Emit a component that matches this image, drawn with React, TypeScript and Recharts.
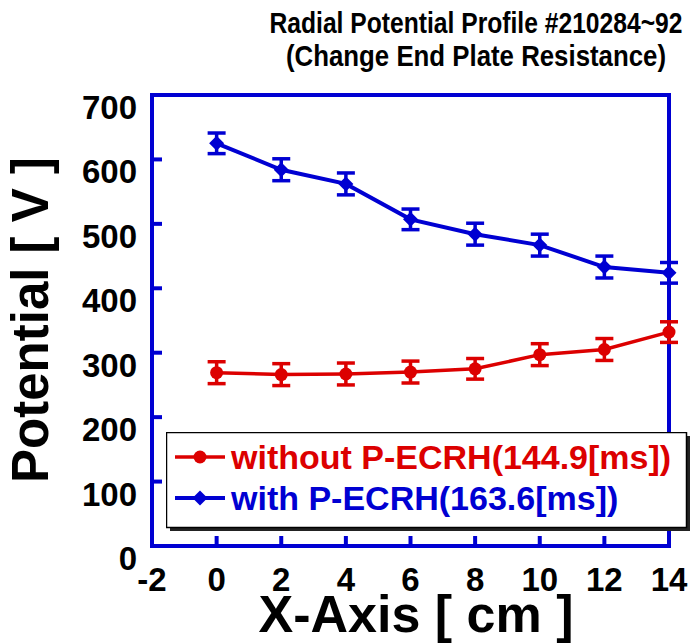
import React from 'react';
import { LineChart, Line, XAxis, YAxis, ErrorBar, ReferenceArea, Legend } from 'recharts';

const xPositions = [0, 2, 4, 6, 8, 10, 12, 14];
const withoutEcrh = [269, 266, 267, 270, 275, 297, 305, 332];
const withoutEcrhErr = [17, 17, 17, 17, 16, 17, 17, 16];
const withEcrh = [625, 584, 562, 507, 484, 467, 433, 424];
const withEcrhErr = [16, 17, 17, 16, 17, 17, 17, 16];
const xTicks = [-2, 0, 2, 4, 6, 8, 10, 12, 14];
const yTicks = [0, 100, 200, 300, 400, 500, 600, 700];
const titleLines = ['Radial Potential Profile #210284~92', '(Change End Plate Resistance)'];
const seriesNames = ['without P-ECRH(144.9[ms])', 'with P-ECRH(163.6[ms])'];
const xTitle = 'X-Axis [ cm ]';
const yTitle = 'Potential [ V ]';

const data = xPositions.map((x, i) => ({
  x,
  red: withoutEcrh[i],
  redErr: withoutEcrhErr[i],
  blue: withEcrh[i],
  blueErr: withEcrhErr[i],
}));

const BLUE = '#0000d2';
const RED = '#dc0000';
const FONT = '"Liberation Sans", Arial, sans-serif';
const TICK = 10;

const RedDot = (p: any) => {
  if (p.cx == null || p.cy == null) return <g key={p.index} />;
  return <circle key={p.index} cx={p.cx} cy={p.cy} r={6.5} fill={RED} />;
};
const BlueDot = (p: any) => {
  if (p.cx == null || p.cy == null) return <g key={p.index} />;
  const { cx, cy } = p;
  return (
    <polygon
      key={p.index}
      points={`${cx},${cy - 7.5} ${cx + 7.5},${cy} ${cx},${cy + 7.5} ${cx - 7.5},${cy}`}
      fill={BLUE}
    />
  );
};

const BottomTick = (p: any) => (
  <g>
    <line x1={p.x} y1={p.y} x2={p.x} y2={p.y - TICK} stroke={BLUE} strokeWidth={4} />
    <text x={p.x} y={p.y + 45} textAnchor="middle" fontFamily={FONT} fontWeight="bold" fontSize={33} fill="#000">
      {p.payload.value}
    </text>
  </g>
);
const TopTick = (p: any) => (
  <line x1={p.x} y1={p.y} x2={p.x} y2={p.y + TICK} stroke={BLUE} strokeWidth={4} />
);
const LeftTick = (p: any) => (
  <g>
    <line x1={p.x} y1={p.y} x2={p.x + TICK} y2={p.y} stroke={BLUE} strokeWidth={4} />
    <text x={p.x - 15} y={p.y + 24} textAnchor="end" fontFamily={FONT} fontWeight="bold" fontSize={33} fill="#000">
      {p.payload.value}
    </text>
  </g>
);
const RightTick = (p: any) => (
  <line x1={p.x} y1={p.y} x2={p.x - TICK} y2={p.y} stroke={BLUE} strokeWidth={4} />
);

const LegendBox = () => (
  <svg width={530} height={104} style={{ display: 'block' }}>
    <rect x={4} y={4} width={520} height={95} fill="#222" />
    <rect x={0.5} y={0.5} width={520} height={95} fill="#fff" stroke="#000" strokeWidth={1.5} />
    <line x1={9} y1={25} x2={59} y2={25} stroke={RED} strokeWidth={3.5} />
    <circle cx={34} cy={25} r={6.5} fill={RED} />
    <text x={65} y={37} fontFamily={FONT} fontWeight="bold" fontSize={34} fill={RED}>
      {seriesNames[0]}
    </text>
    <line x1={9} y1={66} x2={59} y2={66} stroke={BLUE} strokeWidth={4} />
    <polygon points="34,58.5 41.5,66 34,73.5 26.5,66" fill={BLUE} />
    <text x={65} y={78} fontFamily={FONT} fontWeight="bold" fontSize={34} fill={BLUE}>
      {seriesNames[1]}
    </text>
  </svg>
);

export default function App() {
  return (
    <div style={{ position: 'absolute', left: 0, top: 0, width: 693, height: 643, background: '#fff' }}>
      <LineChart
        width={693}
        height={643}
        data={data}
        margin={{ top: 95, right: 24, left: 0, bottom: 0 }}
        style={{ background: '#fff' }}
      >
        <XAxis
          xAxisId="bottom"
          dataKey="x"
          type="number"
          domain={[-2, 14]}
          ticks={xTicks}
          interval={0}
          height={97}
          tickSize={0}
          tickMargin={0}
          axisLine={false}
          tickLine={false}
          tick={<BottomTick />}
        />
        <XAxis
          xAxisId="top"
          orientation="top"
          dataKey="x"
          type="number"
          domain={[-2, 14]}
          ticks={xTicks}
          interval={0}
          height={0}
          tickSize={0}
          tickMargin={0}
          axisLine={false}
          tickLine={false}
          tick={<TopTick />}
        />
        <YAxis
          yAxisId="left"
          type="number"
          domain={[0, 700]}
          ticks={yTicks}
          interval={0}
          width={152}
          tickSize={0}
          tickMargin={0}
          axisLine={false}
          tickLine={false}
          tick={<LeftTick />}
        />
        <YAxis
          yAxisId="right"
          orientation="right"
          type="number"
          domain={[0, 700]}
          ticks={yTicks}
          interval={0}
          width={0}
          tickSize={0}
          tickMargin={0}
          axisLine={false}
          tickLine={false}
          tick={<RightTick />}
        />
        <ReferenceArea
          xAxisId="bottom"
          yAxisId="left"
          x1={-2}
          x2={14}
          y1={0}
          y2={700}
          fill="none"
          fillOpacity={0}
          stroke={BLUE}
          strokeWidth={4}
          strokeOpacity={1}
        />
        <Line
          xAxisId="bottom"
          yAxisId="left"
          dataKey="red"
          stroke={RED}
          strokeWidth={3.5}
          dot={RedDot}
          activeDot={false}
          isAnimationActive={false}
        >
          <ErrorBar dataKey="redErr" direction="y" width={9} strokeWidth={3.5} stroke={RED} isAnimationActive={false} />
        </Line>
        <Line
          xAxisId="bottom"
          yAxisId="left"
          dataKey="blue"
          stroke={BLUE}
          strokeWidth={4}
          dot={BlueDot}
          activeDot={false}
          isAnimationActive={false}
        >
          <ErrorBar dataKey="blueErr" direction="y" width={9} strokeWidth={3.5} stroke={BLUE} isAnimationActive={false} />
        </Line>
        <Legend
          layout="horizontal"
          verticalAlign="middle"
          align="center"
          wrapperStyle={{ position: 'absolute', left: 166, top: 432, width: 530, height: 104 }}
          content={() => <LegendBox />}
        />
      </LineChart>
      <svg
        width={693}
        height={643}
        style={{ position: 'absolute', left: 0, top: 0, pointerEvents: 'none' }}
      >
        <text x={476} y={33} textAnchor="middle" fontFamily={FONT} fontWeight="bold" fontSize={30} textLength={413} lengthAdjust="spacingAndGlyphs" fill="#000">
          {titleLines[0]}
        </text>
        <text x={476} y={66} textAnchor="middle" fontFamily={FONT} fontWeight="bold" fontSize={30} textLength={380} lengthAdjust="spacingAndGlyphs" fill="#000">
          {titleLines[1]}
        </text>
        <text x={416} y={632} textAnchor="middle" fontFamily={FONT} fontWeight="bold" fontSize={52} fill="#000">
          {xTitle}
        </text>
        <text
          x={48}
          y={320}
          textAnchor="middle"
          fontFamily={FONT}
          fontWeight="bold"
          fontSize={51}
          fill="#000"
          transform="rotate(-90, 48, 320)"
        >
          {yTitle}
        </text>
      </svg>
    </div>
  );
}
